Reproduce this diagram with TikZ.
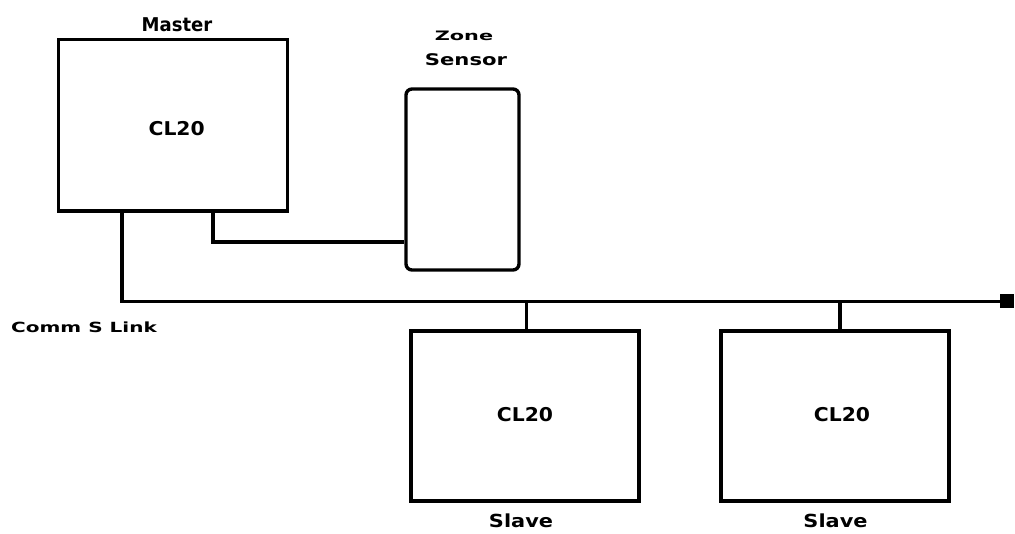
\documentclass[tikz,border=0pt]{standalone}
\usepackage{fontspec}
\usepackage{graphicx}
\setmainfont{DejaVu Sans}
\newcommand\lbl[3]{\fontsize{#1}{#1}\selectfont\bfseries\scalebox{#2}[1]{#3}}
\begin{document}
\begin{tikzpicture}[x=1pt,y=-1pt,
  unitbox/.style={draw, line width=3.4pt, inner sep=0pt},
  wire/.style={line width=3.4pt},
  txt/.style={inner sep=0pt, anchor=center}]
\useasboundingbox (0,0) rectangle (1015,534);
% boxes
\node[unitbox, minimum width=229pt, minimum height=171.7pt] (master) at (172.7,125.2) {};
\node[unitbox, rounded corners=6pt, minimum width=113pt, minimum height=181pt] (sensor) at (462.5,179.5) {};
\node[unitbox, minimum width=228pt, minimum height=170pt] (slave1) at (525,416) {};
\node[unitbox, minimum width=228pt, minimum height=170pt] (slave2) at (835,416) {};
\node[fill, inner sep=0pt, minimum width=14pt, minimum height=14pt] (term) at (1007,301.5) {};
% texts
\node[txt] (tmaster) at (177,25) {\lbl{19pt}{0.95}{Master}};
\node[txt] (tcl1) at (176.7,129) {\lbl{19pt}{1.07}{CL20}};
\node[txt] (tzone) at (464,35.5) {\lbl{13pt}{1.6}{Zone}};
\node[txt] (tsensor) at (466,59.5) {\lbl{16pt}{1.32}{Sensor}};
\node[txt] (tcomm) at (84,327) {\lbl{14pt}{1.43}{Comm S Link}};
\node[txt] (tcl2) at (525,415) {\lbl{19pt}{1.07}{CL20}};
\node[txt] (tcl3) at (842,415) {\lbl{19pt}{1.07}{CL20}};
\node[txt] (tslave1) at (521,521) {\lbl{18pt}{1.16}{Slave}};
\node[txt] (tslave2) at (835.5,521) {\lbl{18pt}{1.16}{Slave}};
% wires
\draw[wire] (master.south -| 122,0) |- (term.west);
\draw[wire] (master.south -| 213,0) |- (sensor.west |- 0,242);
\draw[wire] (slave1.north -| 526.7,0) -- (term.west -| 526.7,0);
\draw[wire] (slave2.north -| 840,0) -- (term.west -| 840,0);
\end{tikzpicture}
\end{document}
